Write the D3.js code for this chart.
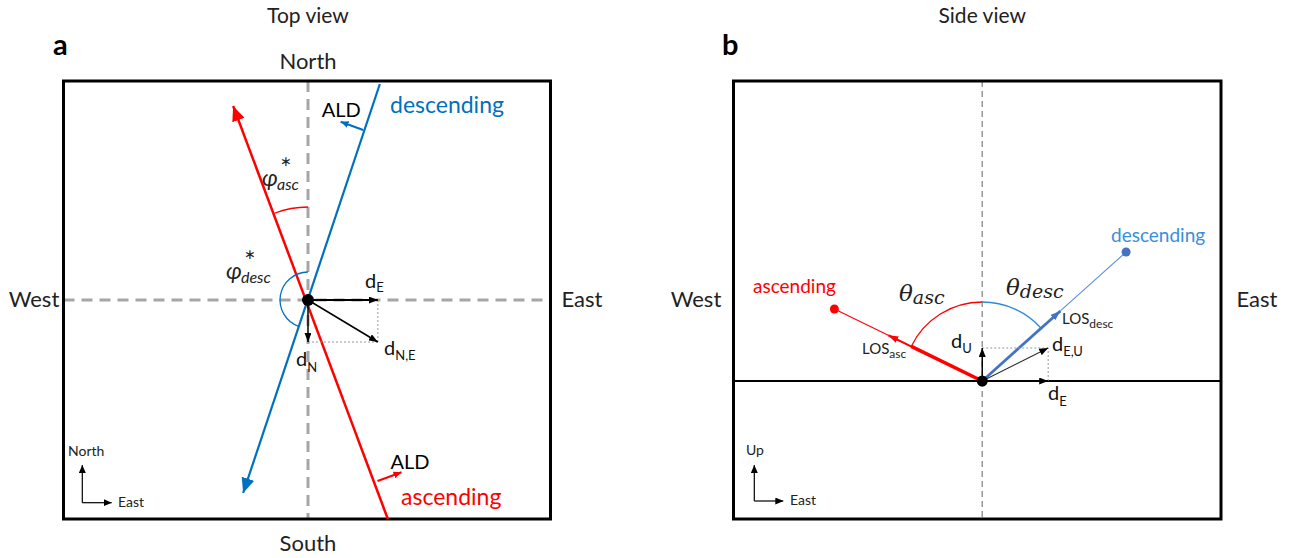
<!DOCTYPE html>
<html>
<head>
<meta charset="utf-8">
<script src="https://cdn.jsdelivr.net/npm/d3@7"></script>
<style>
  body { margin: 0; background: #fff; }
  svg text { font-family: Lato, "Open Sans", sans-serif; }
</style>
</head>
<body>
<svg id="fig" width="1292" height="558"></svg>
<script>
// ---------- Panel a: top view (units: east / north from the scatterer) ----------
const topFrame = { east: [-245, 243], north: [-219, 219] };
const ascTrack = [[-75, 194], [80, -219]];      // flight-direction tip, frame exit
const descTrack = [[72, 216], [-65, -193]];     // frame entry, flight-direction tip
const ascALD = [[69.7, -181], [93.7, -172.3]];  // look direction off the ascending track
const descALD = [[55.3, 170], [32.7, 178.3]];   // look direction off the descending track
const topVectors = [
  { name: "dE", to: [70, 0] },
  { name: "dN", to: [0, -42] },
  { name: "dNE", to: [70, -42] }
];
const headingArcRadius = { asc: 93, desc: 28 };

// ---------- Panel b: side view (units: east / up from the scatterer) ----------
const sideFrame = { east: [-249, 239], up: [-138, 300] };
const ascLOS = { sat: [-148, 72], shaft: 79, head: 104.6 };
const descLOS = { sat: [144, 129], head: 105 };
const sideVectors = [
  { name: "dU", to: [0, 33] },
  { name: "dE", to: [66, 0] },
  { name: "dEU", to: [66, 33] }
];
const incidenceArcRadius = 79;

// ---------- colours ----------
const RED = "#ff0000", BLUE = "#0070c0", LOS_BLUE = "#4472c4", LOS_BLUE_LIGHT = "#5b8fe0", DESC_TXT = "#3a8ede";

const svg = d3.select("#fig");
const defs = svg.append("defs");

function marker(id, color, len, wid) {
  defs.append("marker")
    .attr("id", id)
    .attr("viewBox", `0 ${-wid / 2} ${len} ${wid}`)
    .attr("refX", len).attr("refY", 0)
    .attr("markerWidth", len).attr("markerHeight", wid)
    .attr("markerUnits", "userSpaceOnUse")
    .attr("orient", "auto")
    .append("path")
    .attr("d", `M0,${-wid / 2}L${len},0L0,${wid / 2}Z`)
    .attr("fill", color);
}
marker("redBig", RED, 15, 13);
marker("blueBig", BLUE, 15, 13);
marker("redSmall", RED, 8, 7);
marker("blueSmall", BLUE, 8, 7);
marker("blk", "#000", 9, 7);
marker("blkSmall", "#000", 8, 7);
marker("redLOS", RED, 10, 7);
marker("blueLOS", LOS_BLUE, 10, 7);

// text with sub/superscript parts
function rich(g, x, y, parts, attrs = {}) {
  const t = g.append("text").attr("x", x).attr("y", y);
  Object.entries(attrs).forEach(([k, v]) => t.attr(k, v));
  let cur = 0;
  parts.forEach(p => {
    const off = p.shift || 0;
    const s = t.append("tspan").attr("dy", off - cur).attr("font-size", p.size).text(p.t);
    if (p.family) s.attr("font-family", p.family);
    if (p.style) s.attr("font-style", p.style);
    if (p.dx) s.attr("dx", p.dx);
    cur = off;
  });
  return t;
}
function label(g, x, y, txt, size, anchor = "start", fill = "#000", weight = null) {
  const t = g.append("text").attr("x", x).attr("y", y).attr("font-size", size)
    .attr("text-anchor", anchor).attr("fill", fill).text(txt);
  if (weight) t.attr("font-weight", weight);
  return t;
}
// heading measured clockwise from screen-up -> canvas angle
const toCanvas = h => h - Math.PI / 2;
function arcPath(cx, cy, r, h0, h1) {
  const p = d3.path();
  const a0 = toCanvas(h0), a1 = toCanvas(h1);
  p.moveTo(cx + r * Math.cos(a0), cy + r * Math.sin(a0));
  p.arc(cx, cy, r, a0, a1, h1 < h0);
  return p.toString();
}

const mathFont = "'DejaVu Serif', 'Liberation Serif', serif";
// heading-angle symbol: φ with a starred superscript and an italic subscript
function phiLabel(g, x, y, sub) {
  g.append("text").attr("x", x).attr("y", y).attr("font-size", 23)
    .attr("font-family", mathFont).attr("font-style", "italic").attr("fill", "#222").text("φ");
  g.append("text").attr("x", x + 18).attr("y", y - 20).attr("font-size", 14)
    .attr("font-family", "'DejaVu Sans', sans-serif").attr("fill", "#222").text("∗");
  g.append("text").attr("x", x + 15).attr("y", y + 4).attr("font-size", 16)
    .attr("font-family", mathFont).attr("font-style", "italic").attr("fill", "#222").text(sub);
}

// =================== Panel a ===================
const xa = d3.scaleLinear().domain(topFrame.east).range([63.5, 550.5]);
const ya = d3.scaleLinear().domain(topFrame.north).range([519, 81]);
const ga = svg.append("g");
const ax0 = xa(0), ay0 = ya(0);

label(ga, ax0, 23, "Top view", 21, "middle", "#222");
label(ga, 53, 55, "a", 29, "start", "#000", "bold");
label(ga, ax0, 69, "North", 22, "middle", "#222");
label(ga, ax0, 551, "South", 22, "middle", "#222");
label(ga, 34, 307, "West", 22, "middle", "#222");
label(ga, 582, 307, "East", 22, "middle", "#222");

// cross-hair
ga.append("line").attr("x1", xa(topFrame.east[0])).attr("x2", xa(topFrame.east[1]))
  .attr("y1", ay0).attr("y2", ay0)
  .attr("stroke", "#a6a6a6").attr("stroke-width", 3).attr("stroke-dasharray", "11,7");
ga.append("line").attr("x1", ax0).attr("x2", ax0)
  .attr("y1", ya(topFrame.north[1])).attr("y2", ya(topFrame.north[0]))
  .attr("stroke", "#a6a6a6").attr("stroke-width", 3).attr("stroke-dasharray", "11,7");

// frame
ga.append("rect").attr("x", xa(topFrame.east[0])).attr("y", ya(topFrame.north[1]))
  .attr("width", xa(topFrame.east[1]) - xa(topFrame.east[0]))
  .attr("height", ya(topFrame.north[0]) - ya(topFrame.north[1]))
  .attr("fill", "none").attr("stroke", "#000").attr("stroke-width", 3);

const lineA = d3.line().x(d => xa(d[0])).y(d => ya(d[1]));

// descending track (arrow at south-west end)
ga.append("path").attr("d", lineA(descTrack)).attr("stroke", BLUE).attr("stroke-width", 2.2)
  .attr("fill", "none").attr("marker-end", "url(#blueBig)");
// ascending track (arrow at north-west end)
ga.append("path").attr("d", lineA([ascTrack[1], ascTrack[0]])).attr("stroke", RED).attr("stroke-width", 2.5)
  .attr("fill", "none").attr("marker-end", "url(#redBig)");

// look-direction arrows
ga.append("path").attr("d", lineA(descALD)).attr("stroke", BLUE).attr("stroke-width", 2)
  .attr("fill", "none").attr("marker-end", "url(#blueSmall)");
ga.append("path").attr("d", lineA(ascALD)).attr("stroke", RED).attr("stroke-width", 2)
  .attr("fill", "none").attr("marker-end", "url(#redSmall)");
label(ga, xa(descALD[1][0]) - 19, ya(descALD[1][1]) - 5, "ALD", 20);
label(ga, xa(ascALD[1][0]) - 11, ya(ascALD[1][1]) - 3, "ALD", 20);
label(ga, 390, 113, "descending", 23, "start", BLUE);
label(ga, 401, 505, "ascending", 23, "start", RED);

// heading angle arcs
const hAsc = Math.atan2(ascTrack[0][0], ascTrack[0][1]);
const hDesc = Math.atan2(descTrack[1][0], descTrack[1][1]);
ga.append("path").attr("d", arcPath(ax0, ay0, headingArcRadius.asc, hAsc, 0))
  .attr("fill", "none").attr("stroke", RED).attr("stroke-width", 1.3);
ga.append("path").attr("d", arcPath(ax0, ay0, headingArcRadius.desc, hDesc, 0))
  .attr("fill", "none").attr("stroke", BLUE).attr("stroke-width", 1.3);

phiLabel(ga, 262, 186, "asc");
phiLabel(ga, 226, 279, "desc");

// displacement components
ga.append("path").attr("d", lineA([[topVectors[0].to[0], 0], topVectors[2].to]))
  .attr("stroke", "#999").attr("stroke-width", 1).attr("stroke-dasharray", "2,2").attr("fill", "none");
ga.append("path").attr("d", lineA([[0, topVectors[1].to[1]], topVectors[2].to]))
  .attr("stroke", "#999").attr("stroke-width", 1).attr("stroke-dasharray", "2,2").attr("fill", "none");
topVectors.forEach(v => {
  ga.append("path").attr("d", lineA([[0, 0], v.to]))
    .attr("stroke", "#000").attr("stroke-width", v.name === "dE" ? 2 : 1.5)
    .attr("fill", "none").attr("marker-end", "url(#blk)");
});
ga.append("circle").attr("cx", ax0).attr("cy", ay0).attr("r", 6).attr("fill", "#000");

rich(ga, 365, 288, [{ t: "d", size: 20 }, { t: "E", size: 13, shift: 4 }], { fill: "#111" });
rich(ga, 384, 355, [{ t: "d", size: 20 }, { t: "N,E", size: 13, shift: 5 }], { fill: "#111" });
rich(ga, 296, 366, [{ t: "d", size: 20 }, { t: "N", size: 13, shift: 6 }], { fill: "#111" });

// compass
ga.append("path").attr("d", "M82.3,502.7V465").attr("stroke", "#000").attr("stroke-width", 1.2)
  .attr("fill", "none").attr("marker-end", "url(#blkSmall)");
ga.append("path").attr("d", "M82.3,502.7H111.7").attr("stroke", "#000").attr("stroke-width", 1.2)
  .attr("fill", "none").attr("marker-end", "url(#blkSmall)");
label(ga, 68, 456, "North", 14, "start", "#222");
label(ga, 118, 507, "East", 14, "start", "#222");

// =================== Panel b ===================
const xb = d3.scaleLinear().domain(sideFrame.east).range([733.5, 1221]);
const yb = d3.scaleLinear().domain(sideFrame.up).range([519, 81]);
const gb = svg.append("g");
const bx0 = xb(0), by0 = yb(0);
const lineB = d3.line().x(d => xb(d[0])).y(d => yb(d[1]));

label(gb, bx0, 23, "Side view", 21, "middle", "#222");
label(gb, 722, 55, "b", 29, "start", "#000", "bold");
label(gb, 696, 307, "West", 22, "middle", "#222");
label(gb, 1257, 307, "East", 22, "middle", "#222");

gb.append("line").attr("x1", bx0).attr("x2", bx0)
  .attr("y1", yb(sideFrame.up[1])).attr("y2", yb(sideFrame.up[0]))
  .attr("stroke", "#999").attr("stroke-width", 1.5).attr("stroke-dasharray", "6,4");
gb.append("line").attr("x1", xb(sideFrame.east[0])).attr("x2", xb(sideFrame.east[1]))
  .attr("y1", by0).attr("y2", by0).attr("stroke", "#000").attr("stroke-width", 2);
gb.append("rect").attr("x", xb(sideFrame.east[0])).attr("y", yb(sideFrame.up[1]))
  .attr("width", xb(sideFrame.east[1]) - xb(sideFrame.east[0]))
  .attr("height", yb(sideFrame.up[0]) - yb(sideFrame.up[1]))
  .attr("fill", "none").attr("stroke", "#000").attr("stroke-width", 3);

// incidence arcs
const tAsc = Math.atan2(ascLOS.sat[0], ascLOS.sat[1]);
const tDesc = Math.atan2(descLOS.sat[0], descLOS.sat[1]);
gb.append("path").attr("d", arcPath(bx0, by0, incidenceArcRadius, tAsc, 0))
  .attr("fill", "none").attr("stroke", RED).attr("stroke-width", 1.3);
gb.append("path").attr("d", arcPath(bx0, by0, incidenceArcRadius, 0, tDesc))
  .attr("fill", "none").attr("stroke", "#2e8ad8").attr("stroke-width", 1.3);

const along = (sat, r) => {
  const L = Math.hypot(sat[0], sat[1]);
  return [sat[0] * r / L, sat[1] * r / L];
};

// ascending line of sight
gb.append("path").attr("d", lineB([along(ascLOS.sat, ascLOS.head), ascLOS.sat]))
  .attr("stroke", RED).attr("stroke-width", 1.1).attr("fill", "none");
gb.append("path").attr("d", lineB([along(ascLOS.sat, ascLOS.shaft - 2), along(ascLOS.sat, ascLOS.head)]))
  .attr("stroke", RED).attr("stroke-width", 2).attr("fill", "none").attr("marker-end", "url(#redLOS)");
gb.append("path").attr("d", lineB([[0, 0], along(ascLOS.sat, ascLOS.shaft)]))
  .attr("stroke", RED).attr("stroke-width", 3.5).attr("fill", "none");
gb.append("circle").attr("cx", xb(ascLOS.sat[0])).attr("cy", yb(ascLOS.sat[1])).attr("r", 4.5).attr("fill", RED);

// descending line of sight
gb.append("path").attr("d", lineB([along(descLOS.sat, descLOS.head), descLOS.sat]))
  .attr("stroke", LOS_BLUE_LIGHT).attr("stroke-width", 1.1).attr("fill", "none");
gb.append("path").attr("d", lineB([[0, 0], along(descLOS.sat, descLOS.head)]))
  .attr("stroke", LOS_BLUE).attr("stroke-width", 2.8).attr("fill", "none").attr("marker-end", "url(#blueLOS)");
gb.append("circle").attr("cx", xb(descLOS.sat[0])).attr("cy", yb(descLOS.sat[1])).attr("r", 4.5).attr("fill", LOS_BLUE);

// displacement components
gb.append("path").attr("d", lineB([[0, sideVectors[0].to[1]], sideVectors[2].to]))
  .attr("stroke", "#999").attr("stroke-width", 1).attr("stroke-dasharray", "2,2").attr("fill", "none");
gb.append("path").attr("d", lineB([[sideVectors[1].to[0], 0], sideVectors[2].to]))
  .attr("stroke", "#999").attr("stroke-width", 1).attr("stroke-dasharray", "2,2").attr("fill", "none");
sideVectors.forEach(v => {
  gb.append("path").attr("d", lineB([[0, 0], v.to]))
    .attr("stroke", v.name === "dEU" ? "#333" : "#000").attr("stroke-width", v.name === "dEU" ? 1.2 : 1.5)
    .attr("fill", "none").attr("marker-end", "url(#blk)");
});
gb.append("circle").attr("cx", bx0).attr("cy", by0).attr("r", 5.5).attr("fill", "#000");

// labels
label(gb, 753, 293, "ascending", 19, "start", RED);
label(gb, 1111, 242, "descending", 19, "start", DESC_TXT);
rich(gb, 899, 301, [
  { t: "θ", size: 23, family: mathFont, style: "italic" },
  { t: "asc", size: 19, shift: 3, family: mathFont, style: "italic" }
], { fill: "#222" });
rich(gb, 1006, 295, [
  { t: "θ", size: 23, family: mathFont, style: "italic" },
  { t: "desc", size: 19, shift: 3, family: mathFont, style: "italic" }
], { fill: "#222" });
rich(gb, 862, 354, [{ t: "LOS", size: 15 }, { t: "asc", size: 12, shift: 4 }], { fill: "#222" });
rich(gb, 1062, 324, [{ t: "LOS", size: 15 }, { t: "desc", size: 12, shift: 4 }], { fill: "#222" });
rich(gb, 951, 348, [{ t: "d", size: 20 }, { t: "U", size: 13, shift: 5 }], { fill: "#111" });
rich(gb, 1052, 351, [{ t: "d", size: 20 }, { t: "E,U", size: 13, shift: 5 }], { fill: "#111" });
rich(gb, 1048, 400, [{ t: "d", size: 20 }, { t: "E", size: 13, shift: 6 }], { fill: "#111" });

// compass
gb.append("path").attr("d", "M754.3,501V465").attr("stroke", "#000").attr("stroke-width", 1.2)
  .attr("fill", "none").attr("marker-end", "url(#blkSmall)");
gb.append("path").attr("d", "M754.3,501H783.3").attr("stroke", "#000").attr("stroke-width", 1.2)
  .attr("fill", "none").attr("marker-end", "url(#blkSmall)");
label(gb, 746, 455, "Up", 14, "start", "#222");
label(gb, 790, 505, "East", 14, "start", "#222");
</script>
</body>
</html>
